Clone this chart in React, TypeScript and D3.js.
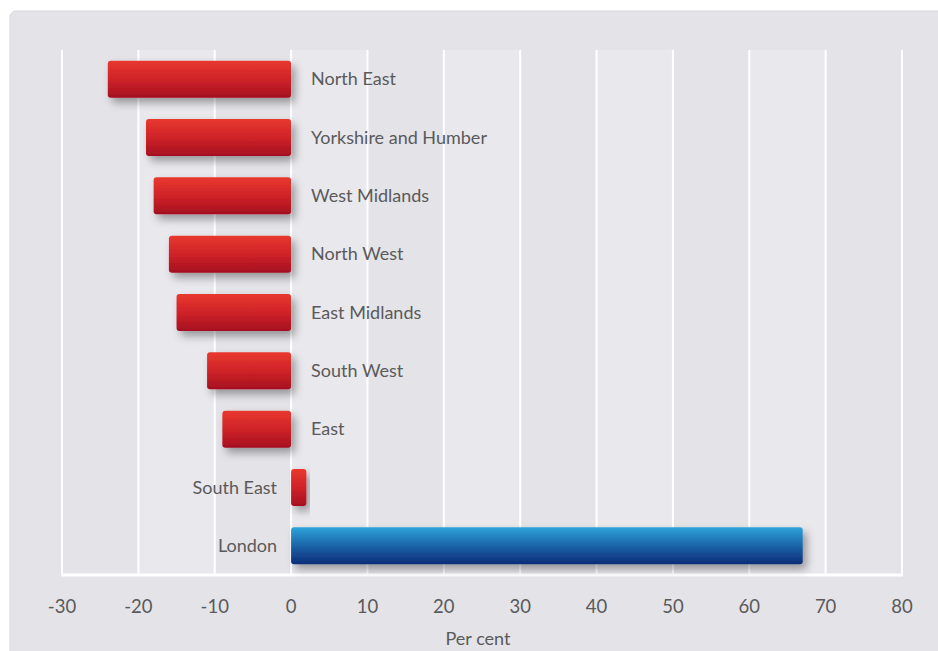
import React from "react";
import * as d3 from "d3";

const regions = ["North East", "Yorkshire and Humber", "West Midlands", "North West", "East Midlands", "South West", "East", "South East", "London"];
const values = [-24, -19, -18, -16, -15, -11, -9, 2, 67];
const ticks = [-30, -20, -10, 0, 10, 20, 30, 40, 50, 60, 70, 80];
const axisTitle = "Per cent";

const W = 938, H = 651;
const FONT = "Lato, 'Noto Sans', sans-serif";

export default function App() {
  const x = d3.scaleLinear().domain([-30, 80]).range([62, 902]);
  const y = d3.scaleBand().domain(regions).range([50, 575]).paddingInner(0.365).paddingOuter(0.1825);
  const bands = ticks.slice(0, -1).filter((t) => ((t + 30) / 10) % 2 === 1);
  return (
    <svg width={W} height={H} style={{ position: "absolute", left: 0, top: 0, display: "block" }}>
      <defs>
        <linearGradient id="gRed" x1="0" y1="0" x2="0" y2="1">
          <stop offset="0" stopColor="#e8382f" />
          <stop offset="0.5" stopColor="#cf2328" />
          <stop offset="1" stopColor="#a50f20" />
        </linearGradient>
        <linearGradient id="gBlue" x1="0" y1="0" x2="0" y2="1">
          <stop offset="0" stopColor="#2fa3da" />
          <stop offset="0.5" stopColor="#1a64a8" />
          <stop offset="1" stopColor="#0c2c78" />
        </linearGradient>
        <filter id="shadow" x="-10%" y="-30%" width="130%" height="180%">
          <feDropShadow dx="4" dy="5" stdDeviation="4" floodColor="#000" floodOpacity="0.35" />
        </filter>
      </defs>
      <rect x={0} y={0} width={W} height={H} fill="#ffffff" />
      <rect x={10} y={11} width={W + 20} height={H + 20} rx={6} fill="#e4e3e8" stroke="#d8d7dc" strokeWidth={1} />
      {bands.map((t) => (
        <rect key={"b" + t} x={x(t)} y={50} width={x(t + 10) - x(t)} height={525} fill="#e9e8ed" />
      ))}
      {ticks.map((t) => (
        <line key={"g" + t} x1={x(t)} x2={x(t)} y1={50} y2={575} stroke="#ffffff" strokeWidth={2} />
      ))}
      <line x1={x(-30) - 1} x2={x(80) + 1} y1={575} y2={575} stroke="#ffffff" strokeWidth={3} />
      {regions.map((r, i) => {
        const v = values[i];
        const x0 = x(Math.min(0, v));
        const x1 = x(Math.max(0, v));
        return (
          <rect
            key={r}
            x={x0}
            y={y(r)}
            width={x1 - x0}
            height={y.bandwidth()}
            rx={3}
            fill={v > 10 ? "url(#gBlue)" : "url(#gRed)"}
            filter="url(#shadow)"
          />
        );
      })}
      {regions.map((r, i) => {
        const v = values[i];
        const neg = v < 0;
        return (
          <text
            key={"l" + r}
            x={neg ? x(0) + 20 : x(0) - 14}
            y={(y(r) as number) + y.bandwidth() / 2}
            dy="0.35em"
            textAnchor={neg ? "start" : "end"}
            fontFamily={FONT}
            fontSize={18}
            fill="#5a5a5a"
          >
            {r}
          </text>
        );
      })}
      {ticks.map((t) => (
        <text key={"t" + t} x={x(t)} y={607} dy="0.35em" textAnchor="middle" fontFamily={FONT} fontSize={18.5} fill="#5a5a5a">
          {t}
        </text>
      ))}
      <text x={478} y={639} dy="0.35em" textAnchor="middle" fontFamily={FONT} fontSize={18} fill="#5a5a5a">
        {axisTitle}
      </text>
    </svg>
  );
}
